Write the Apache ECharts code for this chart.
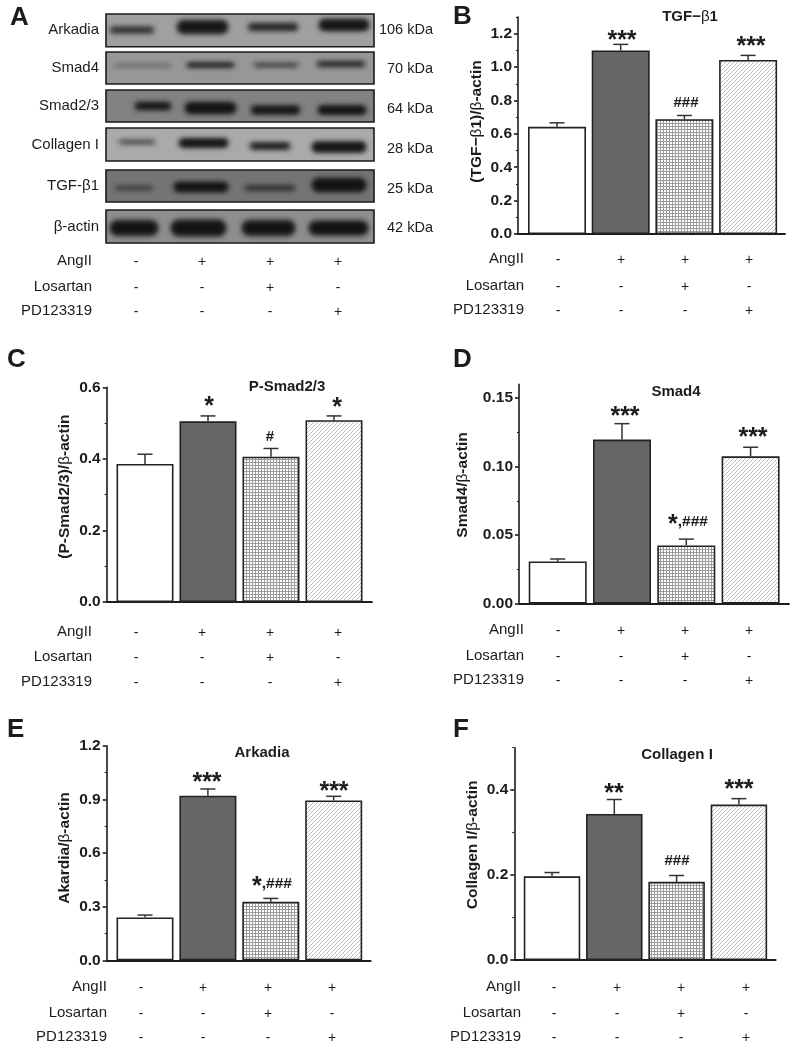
<!DOCTYPE html>
<html><head><meta charset="utf-8">
<style>html,body{margin:0;padding:0;background:#fff}#c{width:798px;height:1050px}</style>
<script src="https://cdn.jsdelivr.net/npm/echarts@6/dist/echarts.min.js"></script>
</head><body><div id="c"></div>
<script>
// ---------- data ----------
const rowNames = ['AngII', 'Losartan', 'PD123319'];
const angII = ['-', '+', '+', '+'];
const losartan = ['-', '-', '+', '-'];
const pd123319 = ['-', '-', '-', '+'];
const tgfValues = [0.642, 1.10, 0.688, 1.043];
const tgfErrors = [0.024, 0.036, 0.022, 0.027];
const tgfSig = ['', '***', '###', '***'];
const tgfTicks = [0, 0.2, 0.4, 0.6, 0.8, 1.0, 1.2];
const tgfMinor = [0.1, 0.3, 0.5, 0.7, 0.9, 1.1, 1.3];
const smad23Values = [0.386, 0.505, 0.406, 0.508];
const smad23Errors = [0.027, 0.015, 0.023, 0.012];
const smad23Sig = ['', '*', '#', '*'];
const smad23Ticks = [0, 0.2, 0.4, 0.6];
const smad23Minor = [0.1, 0.3, 0.5];
const smad4Values = [0.0308, 0.1197, 0.0425, 0.1075];
const smad4Errors = [0.0018, 0.0116, 0.0046, 0.0066];
const smad4Sig = ['', '***', '*,###', '***'];
const smad4Ticks = [0, 0.05, 0.10, 0.15];
const smad4Minor = [0.025, 0.075, 0.125];
const arkadiaValues = [0.240, 0.920, 0.328, 0.894];
const arkadiaErrors = [0.013, 0.038, 0.018, 0.023];
const arkadiaSig = ['', '***', '*,###', '***'];
const arkadiaTicks = [0, 0.3, 0.6, 0.9, 1.2];
const arkadiaMinor = [0.15, 0.45, 0.75, 1.05];
const collagenValues = [0.197, 0.344, 0.184, 0.366];
const collagenErrors = [0.009, 0.034, 0.015, 0.014];
const collagenSig = ['', '**', '###', '***'];
const collagenTicks = [0, 0.2, 0.4];
const collagenMinor = [0.1, 0.3, 0.5];
const blotNames = ['Arkadia', 'Smad4', 'Smad2/3', 'Collagen I', 'TGF-β1', 'β-actin'];
const blotWeights = ['106 kDa', '70 kDa', '64 kDa', '28 kDa', '25 kDa', '42 kDa'];
// band darkness per blot, one per lane (0 faint .. 1 dark)
const blotIntensity = [
  [0.65, 0.95, 0.75, 1.00],
  [0.22, 0.90, 0.60, 0.70],
  [0.90, 1.00, 0.90, 1.00],
  [0.50, 1.00, 0.85, 1.00],
  [0.45, 1.00, 0.60, 1.00],
  [1.00, 1.00, 1.00, 1.00]
];

// ---------- layout ----------
const FONT = '"Liberation Sans", Arial, sans-serif';
const INK = '#1c1c1c';
const panels = [
  {letter:'B', lx:453, ly:17, title:'TGF−{g|β}1', tx:690, ty:17, name:'(TGF−{g|β}1)/{g|β}-actin', nameShift:4, nameGap:33,
   v:tgfValues, e:tgfErrors, ticks:tgfTicks, minor:tgfMinor, dec:1, sig:tgfSig, max:1.3,
   axisX:518, endX:785, top:17, zero:234, x0:557, dx:63.7, bw:58,
   sigPos:[null,[622,36],[686,103],[751,42]], colX:[558,621,685,749], rowY:[259,286,310], rowR:524},
  {letter:'C', lx:7, ly:360, title:'P-Smad2/3', tx:287, ty:387, name:'(P-Smad2/3)/{g|β}-actin', nameShift:8, nameGap:33.7,
   v:smad23Values, e:smad23Errors, ticks:smad23Ticks, minor:smad23Minor, dec:1, sig:smad23Sig, max:0.6,
   axisX:106.7, endX:372, top:387.3, zero:602, x0:145, dx:63, bw:57,
   sigPos:[null,[209,402],[270,437],[337,403]], colX:[136,202,270,338], rowY:[632,657,682], rowR:92},
  {letter:'D', lx:453, ly:360, title:'Smad4', tx:676, ty:392, name:'Smad4/{g|β}-actin', nameShift:9, nameGap:48,
   v:smad4Values, e:smad4Errors, ticks:smad4Ticks, minor:smad4Minor, dec:2, sig:smad4Sig, max:0.16,
   axisX:519, endX:789, top:384.3, zero:603.7, x0:557.7, dx:64.3, bw:58,
   sigPos:[null,[625,412],[688,522],[753,433]], colX:[558,621,685,749], rowY:[630,656,680], rowR:524},
  {letter:'E', lx:7, ly:730, title:'Arkadia', tx:262, ty:753, name:'Akardia/{g|β}-actin', nameShift:5, nameGap:33.7,
   v:arkadiaValues, e:arkadiaErrors, ticks:arkadiaTicks, minor:arkadiaMinor, dec:1, sig:arkadiaSig, max:1.2,
   axisX:106.7, endX:370.7, top:745.7, zero:960.3, x0:145, dx:62.9, bw:57,
   sigPos:[null,[207,778],[272,884],[334,787]], colX:[141,203,268,332], rowY:[987,1013,1037], rowR:107},
  {letter:'F', lx:453, ly:730, title:'Collagen I', tx:677, ty:755, name:'Collagen I/{g|β}-actin', nameShift:9, nameGap:33.6,
   v:collagenValues, e:collagenErrors, ticks:collagenTicks, minor:collagenMinor, dec:1, sig:collagenSig, max:0.5,
   axisX:514.3, endX:775.7, top:747.7, zero:960, x0:552, dx:62.3, bw:56.5,
   sigPos:[null,[614,789],[677,861],[739,785]], colX:[554,617,681,746], rowY:[987,1013,1037], rowR:521}
];
const blotBoxes = [[14,46.7,'#a0a0a0'],[52,84,'#979797'],[90,122,'#828282'],[128,161,'#aaaaaa'],[170,202,'#747474'],[210,243,'#8e8e8e']];
const blotBands = [
  [[108,156,30,7],[175,230,27,14],[246,300,27,8],[317,371,25,12]],
  [[112,173,65.5,4],[185,236,65,4.5],[252,300,65,3.5],[315,367,64,6]],
  [[133,173,106,8],[183,238,108,12],[249,302,110,9],[316,368,110,9]],
  [[117,157,142,4.5],[177,230,143,9],[248,292,146,7],[310,368,147,11]],
  [[113,155,188,4],[172,230,187,10],[243,297,188,5],[310,368,185,14]],
  [[108,160,228,16],[169,228,228,17],[240,297,228,16],[307,370,228,15]]
];

// ---------- patterns ----------
function tile(size, draw){
  const c = document.createElement('canvas'); c.width = c.height = size;
  const g = c.getContext('2d'); g.fillStyle = '#fff'; g.fillRect(0,0,size,size); draw(g, size);
  return {image:c, repeat:'repeat'};
}
const gridFill = tile(3, (g)=>{ g.fillStyle='#9a9a9a'; g.fillRect(0,0,3,1); g.fillRect(0,0,1,3); });
const hatchFill = tile(4, (g)=>{
  g.strokeStyle='#bcbcbc'; g.lineWidth=1;
  g.beginPath(); g.moveTo(-1,5); g.lineTo(5,-1); g.moveTo(-1,1); g.lineTo(1,-1); g.moveTo(3,5); g.lineTo(5,3); g.stroke();
});
const barFills = ['#ffffff', '#666666', gridFill, hatchFill];

// ---------- option ----------
const grid=[], xAxis=[], yAxis=[], series=[], title=[], graphic=[];
function txt(text, x, y, font, align, extra){
  graphic.push({type:'text', silent:true, style:Object.assign({text, x, y, font, align:align||'center', verticalAlign:'middle', fill:INK}, extra||{})});
}
const greek = {g:{fontWeight:'normal'}};
panels.forEach((p,k)=>{
  grid.push({left:p.axisX, top:p.top, width:p.endX-p.axisX, height:p.zero-p.top});
  xAxis.push({gridIndex:k, type:'value', min:(p.axisX-p.x0)/p.dx, max:(p.endX-p.x0)/p.dx,
    axisLine:{show:true,onZero:false,lineStyle:{color:INK,width:1.8}}, axisTick:{show:false}, axisLabel:{show:false}, splitLine:{show:false}});
  yAxis.push({gridIndex:k, type:'value', position:'left', min:0, max:p.max, name:p.name, nameLocation:'middle', nameGap:p.nameGap, nameRotate:90, nameMoveOverlap:false,
    nameTextStyle:{fontFamily:FONT,fontWeight:'bold',fontSize:15.5,color:INK,padding:[0,0,0,p.nameShift*2],rich:greek},
    axisLine:{show:true,onZero:false,lineStyle:{color:INK,width:1.6}},
    axisTick:{show:true,length:4,lineStyle:{color:INK,width:1.6},customValues:p.ticks},
    axisLabel:{show:true,customValues:p.ticks,margin:6,fontFamily:FONT,fontWeight:'bold',fontSize:15.5,color:INK,formatter:(v)=>v.toFixed(p.dec===2?2:1)},
    splitLine:{show:false}});
  yAxis.push({gridIndex:k, type:'value', position:'left', min:0, max:p.max,
    axisLine:{show:false,onZero:false}, axisLabel:{show:false}, splitLine:{show:false},
    axisTick:{show:true,length:2,lineStyle:{color:INK,width:1.2},customValues:p.minor}});
  series.push({type:'bar', xAxisIndex:k, yAxisIndex:k*2, barWidth:p.bw, silent:true, z:3, animation:false,
    data:p.v.map((v,i)=>({value:[i,v], itemStyle:{color:barFills[i],borderColor:'#222',borderWidth:1.6}}))});
  series.push({type:'custom', xAxisIndex:k, yAxisIndex:k*2, silent:true, z:2, animation:false, clip:false,
    encode:{x:0,y:[1,2]},
    data:p.v.map((v,i)=>[i,v,v+p.e[i]]),
    renderItem:(params,api)=>{
      const a=api.coord([api.value(0),api.value(1)]), b=api.coord([api.value(0),api.value(2)]);
      const style={stroke:'#333',lineWidth:1.5,fill:null};
      return {type:'group',children:[
        {type:'line',shape:{x1:a[0],y1:a[1],x2:b[0],y2:b[1]},style},
        {type:'line',shape:{x1:b[0]-7.5,y1:b[1],x2:b[0]+7.5,y2:b[1]},style}
      ]};
    }});
  title.push({text:p.title,left:p.tx,top:p.ty-9,textAlign:'center',padding:0,
    textStyle:{fontFamily:FONT,fontWeight:'bold',fontSize:15,color:INK,lineHeight:18,rich:greek}});
  txt(p.letter,p.lx,p.ly,'bold 26px '+FONT,'left');
  [angII,losartan,pd123319].forEach((row,r)=>{
    txt(rowNames[r],p.rowR,p.rowY[r],'15px '+FONT,'right');
    row.forEach((m,i)=>txt(m,p.colX[i],p.rowY[r]+1,'14px '+FONT));
  });
  p.sig.forEach((s,i)=>{
    if(!s) return;
    const pos=p.sigPos[i];
    if(s==='*,###'){
      txt('{s|*}{h|,###}',pos[0],pos[1],'bold 15px '+FONT,'center',{rich:{s:{fontSize:25,fontWeight:'bold',fontFamily:FONT,fill:INK,padding:[7,0,0,0]},h:{fontSize:15.5,fontWeight:'bold',fontFamily:FONT,fill:INK}}});
    } else if(s.charAt(0)==='*'){
      txt(s,pos[0],pos[1]+5,'bold 25px '+FONT);
    } else {
      txt(s,pos[0],pos[1],'bold 15px '+FONT);
    }
  });
});

// panel A: blots (bands are soft shadows of shapes kept just off the canvas, so no hard edge shows)
txt('A',10,18,'bold 26px '+FONT,'left');
const blotLabelY=[30,68,106,145,186,227], blotWeightY=[30,69,109,149,189,228];
const OFF = 1200;
function band(x1,x2,cy,h,a,blur){
  graphic.push({type:'rect',silent:true,shape:{x:x1-OFF,y:cy-h/2,width:x2-x1,height:h,r:h/2},
    style:{fill:'#000',shadowBlur:blur,shadowOffsetX:OFF,shadowColor:'rgba(14,14,14,'+a+')'}});
}
blotBoxes.forEach((b,r)=>{
  graphic.push({type:'rect',silent:true,shape:{x:106,y:b[0],width:268,height:b[1]-b[0]},style:{fill:b[2]}});
  blotBands[r].forEach((d,i)=>{
    const a=blotIntensity[r][i], h=d[3];
    band(d[0]+1,d[1]-1,d[2],h+1,a*0.7,5);
    band(d[0]+4,d[1]-4,d[2],h*0.7,a*0.85,4);
  });
  graphic.push({type:'rect',silent:true,shape:{x:106,y:b[0],width:268,height:b[1]-b[0]},style:{fill:'none',stroke:'#1a1a1a',lineWidth:1.6}});
  txt(blotNames[r],99,blotLabelY[r],'15px '+FONT,'right');
  txt(blotWeights[r],433,blotWeightY[r],'14.5px '+FONT,'right');
});
[angII,losartan,pd123319].forEach((row,r)=>{
  const y=[261,287,311][r];
  txt(rowNames[r],92,y,'15px '+FONT,'right');
  row.forEach((m,i)=>txt(m,[136,202,270,338][i],y+1,'14px '+FONT));
});

const chart = echarts.init(document.getElementById('c'),null,{renderer:'canvas'});
chart.setOption({animation:false,backgroundColor:'#fff',title,grid,xAxis,yAxis,series,graphic:{elements:graphic}});
</script></body></html>
